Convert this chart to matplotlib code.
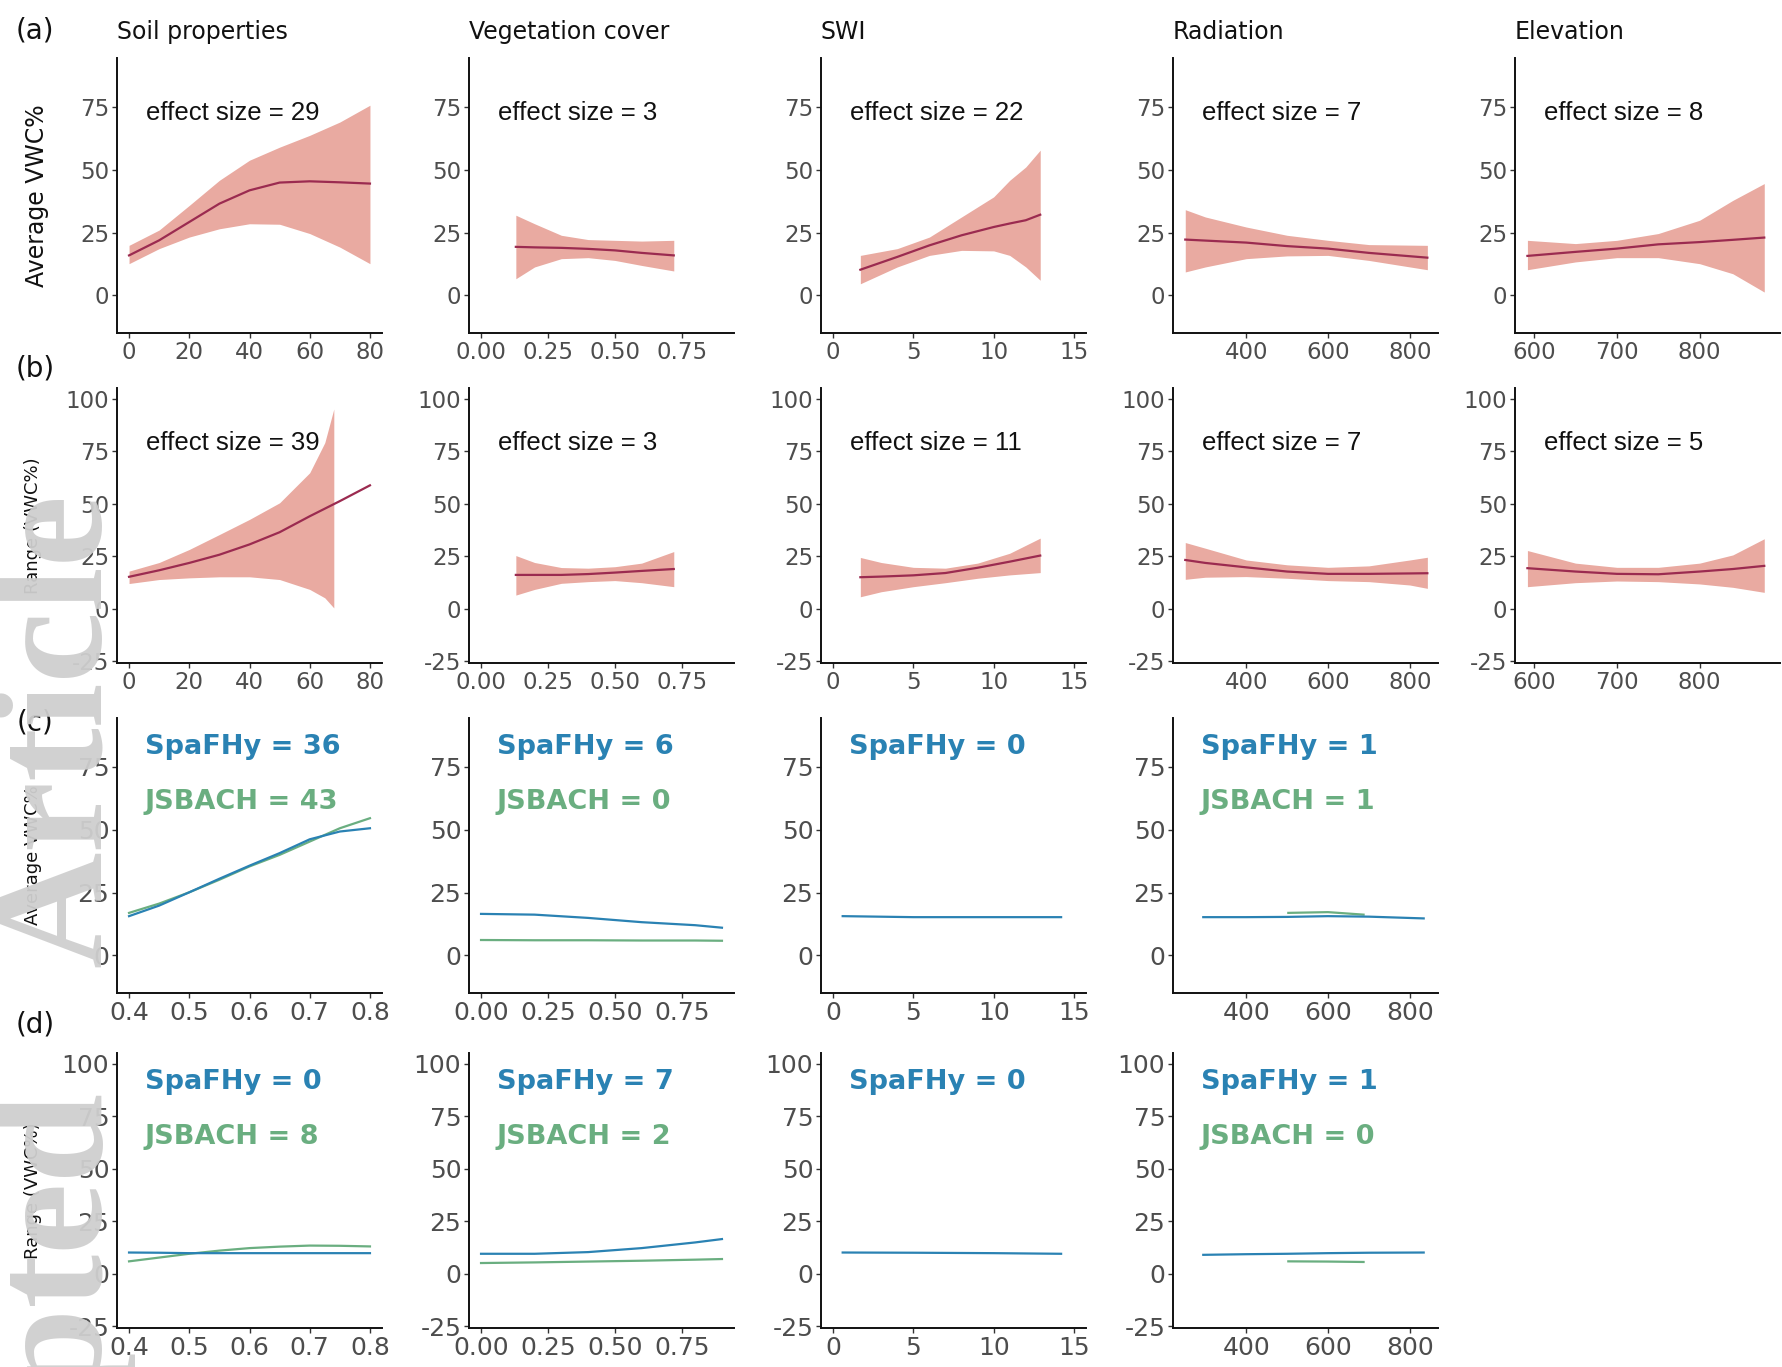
import numpy as np
import matplotlib.pyplot as plt
from matplotlib.transforms import blended_transform_factory

# column titles and panel tags
titles = ["Soil properties", "Vegetation cover", "SWI", "Radiation", "Elevation"]
tags = ["(a)", "(b)", "(c)", "(d)"]
ylabels = ["Average VWC%", "Range (VWC%)", "Average VWC%", "Range (VWC%)"]

# ---- row (a): average VWC%, fitted effect with confidence band ----
soil_x_a = [0, 10, 20, 30, 40, 50, 60, 70, 80]
soil_fit_a = [15.9, 21.9, 29.2, 36.5, 41.8, 44.9, 45.4, 45.0, 44.5]
soil_lo_a = [12.6, 18.6, 23.2, 26.5, 28.5, 28.3, 24.6, 19.2, 12.6]
soil_hi_a = [19.9, 26.0, 35.8, 45.8, 53.8, 59.0, 63.7, 69.0, 75.7]

veg_x_a = [0.13, 0.2, 0.3, 0.4, 0.5, 0.6, 0.72]
veg_fit_a = [19.3, 19.1, 18.9, 18.5, 17.9, 16.9, 15.9]
veg_lo_a = [6.6, 11.3, 14.6, 15.0, 13.9, 11.9, 9.7]
veg_hi_a = [31.9, 28.5, 23.9, 22.2, 21.9, 21.6, 21.9]

swi_x_a = [1.7, 4, 6, 8, 10, 11, 12, 12.9]
swi_fit_a = [10.2, 15.3, 19.9, 23.9, 27.2, 28.6, 29.9, 32.1]
swi_lo_a = [4.6, 11.3, 15.9, 17.9, 17.7, 15.9, 11.3, 6.0]
swi_hi_a = [15.9, 18.6, 23.2, 31.2, 39.2, 45.8, 51.1, 57.8]

rad_x_a = [251, 300, 400, 500, 600, 700, 843]
rad_fit_a = [22.2, 21.8, 21.0, 19.6, 18.6, 16.9, 15.0]
rad_lo_a = [9.3, 11.3, 14.6, 15.7, 15.9, 13.9, 10.2]
rad_hi_a = [34.1, 31.2, 27.2, 23.9, 21.9, 20.2, 19.9]

elev_x_a = [592, 650, 700, 750, 800, 840, 878]
elev_fit_a = [15.7, 17.3, 18.6, 20.3, 21.2, 22.1, 23.0]
elev_lo_a = [10.2, 13.3, 15.0, 15.0, 12.6, 8.6, 1.3]
elev_hi_a = [21.9, 20.6, 21.9, 24.6, 29.9, 37.8, 44.5]

effect_a = [29, 3, 22, 7, 8]

# ---- row (b): range of VWC% ----
soil_x_b = [0, 10, 20, 30, 40, 50, 60, 70, 80]
soil_fit_b = [15.2, 18.3, 21.8, 25.7, 30.6, 36.4, 44.0, 51.2, 58.7]
soil_band_x_b = [0, 10, 20, 30, 40, 50, 60, 65, 68]
soil_lo_b = [12.0, 13.9, 14.7, 15.2, 15.2, 13.9, 9.2, 5.2, 0.4]
soil_hi_b = [17.9, 22.0, 28.2, 35.3, 42.5, 50.4, 64.7, 79.0, 95.0]

veg_x_b = [0.13, 0.2, 0.3, 0.4, 0.5, 0.6, 0.72]
veg_fit_b = [16.1, 16.1, 16.1, 16.5, 17.2, 18.0, 18.9]
veg_lo_b = [6.5, 9.2, 12.1, 12.9, 13.4, 12.4, 10.5]
veg_hi_b = [25.3, 22.0, 19.6, 19.3, 20.0, 21.7, 27.2]

swi_x_b = [1.7, 3, 5, 7, 9, 11, 12.9]
swi_fit_b = [15.0, 15.3, 15.9, 17.0, 19.5, 22.4, 25.3]
swi_lo_b = [5.7, 8.1, 10.5, 12.4, 14.5, 16.1, 17.2]
swi_hi_b = [24.4, 22.0, 19.7, 19.3, 21.7, 26.4, 33.6]

rad_x_b = [251, 300, 400, 500, 600, 700, 800, 843]
rad_fit_b = [23.2, 21.8, 19.7, 17.7, 16.6, 16.6, 16.8, 16.9]
rad_lo_b = [14.0, 15.0, 15.3, 14.5, 13.4, 12.9, 11.3, 9.7]
rad_hi_b = [31.5, 28.8, 23.2, 20.9, 19.7, 20.4, 23.2, 24.5]

elev_x_b = [592, 650, 700, 750, 800, 840, 878]
elev_fit_b = [19.3, 17.7, 16.6, 16.4, 17.7, 18.9, 20.4]
elev_lo_b = [10.5, 12.4, 13.2, 12.9, 11.8, 10.2, 7.8]
elev_hi_b = [27.7, 21.7, 19.7, 19.7, 21.7, 25.6, 33.3]

effect_b = [39, 3, 11, 7, 5]

# ---- rows (c) and (d): SpaFHy vs JSBACH ----
soil_x_cd = [0.40, 0.45, 0.50, 0.55, 0.60, 0.65, 0.70, 0.75, 0.80]
soil_spafhy_c = [15.6, 19.8, 25.1, 30.5, 35.7, 40.7, 46.2, 49.3, 50.6]
soil_jsbach_c = [16.9, 20.6, 25.1, 30.1, 35.4, 40.0, 45.3, 50.6, 54.6]
soil_spafhy_d = [10.1, 10.0, 9.8, 9.8, 9.8, 9.8, 9.8, 9.8, 9.8]
soil_jsbach_d = [5.9, 7.7, 9.5, 11.0, 12.2, 12.9, 13.4, 13.3, 13.0]

veg_x_cd = [0.0, 0.2, 0.4, 0.6, 0.8, 0.9]
veg_spafhy_c = [16.5, 16.2, 14.9, 13.2, 12.0, 11.0]
veg_jsbach_c = [6.1, 6.0, 6.0, 5.9, 5.9, 5.8]
veg_spafhy_d = [9.5, 9.5, 10.3, 12.2, 14.9, 16.5]
veg_jsbach_d = [5.1, 5.4, 5.8, 6.2, 6.7, 7.0]

swi_x_cd = [0.6, 5, 10, 14.2]
swi_spafhy_c = [15.6, 15.2, 15.2, 15.2]
swi_spafhy_d = [10.1, 10.0, 9.8, 9.5]

rad_x_cd = [295, 400, 500, 600, 700, 834]
rad_spafhy_c = [15.2, 15.2, 15.3, 15.6, 15.4, 14.7]
rad_spafhy_d = [9.0, 9.3, 9.5, 9.8, 10.0, 10.1]
rad_jsb_x = [503, 600, 687]
rad_jsbach_c = [16.9, 17.2, 16.2]
rad_jsbach_d = [5.9, 5.8, 5.6]

spafhy_c = [36, 6, 0, 1]
jsbach_c = [43, 0, None, 1]
spafhy_d = [0, 7, 0, 1]
jsbach_d = [8, 2, None, 0]

# axis settings per column
xlims_ab = [(-4, 84), (-0.045, 0.945), (-0.75, 15.75), (221, 869), (577, 897)]
xlims_cd = [(0.38, 0.82), (-0.045, 0.945), (-0.75, 15.75), (221, 869)]
xticks_ab = [[0, 20, 40, 60, 80], [0, 0.25, 0.5, 0.75], [0, 5, 10, 15],
             [400, 600, 800], [600, 700, 800]]
xticks_cd = [[0.4, 0.5, 0.6, 0.7, 0.8], [0, 0.25, 0.5, 0.75], [0, 5, 10, 15],
             [400, 600, 800]]
xfmt = ["{:g}", "{:.2f}", "{:g}", "{:g}", "{:g}"]

RIB = "#e9aaa1"
FIT = "#9b2b50"
BLUE = "#2a82b3"
GREEN = "#6aae80"

W, H = 1782, 1367
col_left = [117, 469, 821, 1173, 1515]
row_top = [58, 388, 718, 1053]
aw, ah = 265, 275

fig = plt.figure(figsize=(W / 100, H / 100), dpi=100)


def make_ax(r, c, xlim, ylim, xticks, fmt, yticks, fs):
    ax = fig.add_axes([col_left[c] / W, 1 - (row_top[r] + ah) / H, aw / W, ah / H])
    ax.set_xlim(*xlim)
    ax.set_ylim(*ylim)
    ax.set_xticks(xticks)
    ax.set_xticklabels([fmt.format(t) for t in xticks])
    ax.set_yticks(yticks)
    ax.set_yticklabels([str(t) for t in yticks])
    for s in ["top", "right"]:
        ax.spines[s].set_visible(False)
    for s in ["left", "bottom"]:
        ax.spines[s].set_linewidth(1.4)
        ax.spines[s].set_color("#111111")
    ax.tick_params(length=3.5, width=1, color="#333333", labelcolor="#4d4d4d",
                   labelsize=fs, pad=2)
    ax.patch.set_alpha(0)
    return ax


band_rows = [
    [(soil_x_a, soil_fit_a, soil_x_a, soil_lo_a, soil_hi_a),
     (veg_x_a, veg_fit_a, veg_x_a, veg_lo_a, veg_hi_a),
     (swi_x_a, swi_fit_a, swi_x_a, swi_lo_a, swi_hi_a),
     (rad_x_a, rad_fit_a, rad_x_a, rad_lo_a, rad_hi_a),
     (elev_x_a, elev_fit_a, elev_x_a, elev_lo_a, elev_hi_a)],
    [(soil_x_b, soil_fit_b, soil_band_x_b, soil_lo_b, soil_hi_b),
     (veg_x_b, veg_fit_b, veg_x_b, veg_lo_b, veg_hi_b),
     (swi_x_b, swi_fit_b, swi_x_b, swi_lo_b, swi_hi_b),
     (rad_x_b, rad_fit_b, rad_x_b, rad_lo_b, rad_hi_b),
     (elev_x_b, elev_fit_b, elev_x_b, elev_lo_b, elev_hi_b)],
]
effects = [effect_a, effect_b]
ab_ylim = [(-15, 94.5), (-25.8, 105)]
ab_yticks = [[0, 25, 50, 75], [-25, 0, 25, 50, 75, 100]]
ab_texty = [72.6, 79]

for r in range(2):
    for c in range(5):
        ax = make_ax(r, c, xlims_ab[c], ab_ylim[r], xticks_ab[c], xfmt[c],
                     ab_yticks[r], 16.5)
        x, fit, bx, lo, hi = band_rows[r][c]
        ax.fill_between(bx, lo, hi, color=RIB, lw=0)
        ax.plot(x, fit, color=FIT, lw=1.6)
        tr = blended_transform_factory(ax.transAxes, ax.transData)
        ax.text(0.11, ab_texty[r], "effect size = %d" % effects[r][c], transform=tr,
                fontsize=18.5, family="Liberation Sans", color="#111111", va="center")
        if r == 0:
            ax.text(0.0, 1.093, titles[c], transform=ax.transAxes, fontsize=17,
                    color="#111111", va="center", ha="left")

model_rows = [
    [(soil_x_cd, soil_spafhy_c, soil_x_cd, soil_jsbach_c),
     (veg_x_cd, veg_spafhy_c, veg_x_cd, veg_jsbach_c),
     (swi_x_cd, swi_spafhy_c, None, None),
     (rad_x_cd, rad_spafhy_c, rad_jsb_x, rad_jsbach_c)],
    [(soil_x_cd, soil_spafhy_d, soil_x_cd, soil_jsbach_d),
     (veg_x_cd, veg_spafhy_d, veg_x_cd, veg_jsbach_d),
     (swi_x_cd, swi_spafhy_d, None, None),
     (rad_x_cd, rad_spafhy_d, rad_jsb_x, rad_jsbach_d)],
]
spa_vals = [spafhy_c, spafhy_d]
jsb_vals = [jsbach_c, jsbach_d]
cd_ylim = [(-15, 94.5), (-25.8, 105)]
cd_yticks = [[0, 25, 50, 75], [-25, 0, 25, 50, 75, 100]]
spa_y = [83, 91.3]
jsb_y = [61.2, 65.2]

for r in range(2):
    for c in range(4):
        ax = make_ax(r + 2, c, xlims_cd[c], cd_ylim[r], xticks_cd[c], xfmt[c],
                     cd_yticks[r], 18)
        sx, sy, jx, jy = model_rows[r][c]
        if jx is not None:
            ax.plot(jx, jy, color=GREEN, lw=1.6)
        ax.plot(sx, sy, color=BLUE, lw=1.6)
        tr = blended_transform_factory(ax.transAxes, ax.transData)
        ax.text(0.105, spa_y[r], "SpaFHy = %d" % spa_vals[r][c], transform=tr,
                fontsize=19.5, fontweight="bold", color=BLUE, va="center")
        if jsb_vals[r][c] is not None:
            ax.text(0.105, jsb_y[r], "JSBACH = %d" % jsb_vals[r][c], transform=tr,
                    fontsize=19.5, fontweight="bold", color=GREEN, va="center")

# y labels and panel tags
ylab_x = [37, 33, 33, 33]
ylab_fs = [17, 13, 13, 13]
tag_y = [30, 369, 723, 1025]
for r in range(4):
    fig.text(ylab_x[r] / W, 1 - (row_top[r] + ah / 2) / H, ylabels[r], rotation=90,
             ha="center", va="center", fontsize=ylab_fs[r], color="#111111")
    fig.text(35 / W, 1 - tag_y[r] / H, tags[r], ha="center", va="center",
             fontsize=20, color="#111111")

# journal watermark along the left edge
wm = dict(rotation=90, rotation_mode="anchor", va="baseline", ha="right",
          fontsize=116, fontweight="bold", family="Liberation Serif",
          color="#cfcfcf", alpha=0.95, zorder=10)
fig.text(100 / W, 1 - 493 / H, "Article", **wm)
fig.text(100 / W, 1 - 1091 / H, "Accepted", **wm)

fig.savefig("out.png", dpi=100)
